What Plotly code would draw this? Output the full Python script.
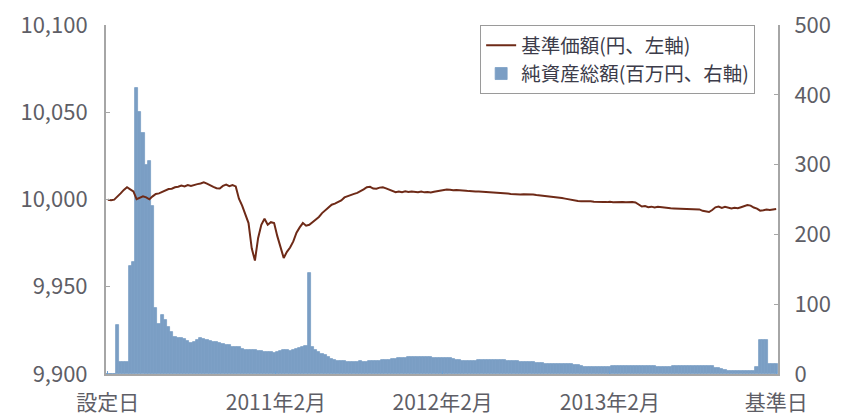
import pandas as pd
import plotly.graph_objects as go

# weekly observation dates from 設定日 to 基準日
dates = pd.date_range("2010-01-29", periods=210, freq="7D")

# 基準価額 (円, left axis)
nav = [
    9999.8, 9999.6, 9999.9, 10001.5, 10003.5, 10005.5, 10007, 10005.8, 10004.6, 10000.2,
    10001, 10001.8, 10001.2, 10000.1, 10001.8, 10003.2, 10003.5, 10004.2, 10005.1, 10006,
    10006.2, 10007, 10007.3, 10008, 10007.5, 10008.3, 10007.8, 10008.5, 10008.8, 10009.2,
    10009.8, 10009.1, 10008, 10007.2, 10006.5, 10006.3, 10007.8, 10008.5, 10007.6, 10008.3,
    10007.5, 10000.5, 9996.5, 9992, 9986.5, 9972, 9965, 9978, 9985.5, 9989,
    9985.5, 9987, 9986.5, 9979, 9972, 9966.5, 9970, 9972.5, 9976, 9981,
    9984, 9986.5, 9985, 9985.5, 9987, 9988.5, 9990, 9992.2, 9994, 9995.8,
    9997, 9997.6, 9998.5, 9999.5, 10001.2, 10002, 10002.6, 10003.2, 10003.8, 10004.6,
    10005.8, 10007, 10007.3, 10006.3, 10006.2, 10006.8, 10007, 10006.4, 10005.6, 10004.6,
    10004.2, 10004.6, 10004.2, 10004.7, 10004.3, 10004.6, 10004.5, 10004.2, 10004.6, 10004.1,
    10004.3, 10004, 10004.4, 10004.8, 10005.2, 10005.5, 10005.7, 10005.6, 10005.3, 10005.5,
    10005.2, 10005, 10005, 10004.8, 10004.9, 10004.6, 10004.6, 10004.5, 10004.3, 10004.4,
    10004.1, 10004.2, 10004, 10003.8, 10003.6, 10003.4, 10003.2, 10003, 10003.1, 10002.9,
    10003, 10003.1, 10002.9, 10002.9, 10002.6, 10002.4, 10002.3, 10002.1, 10002, 10001.6,
    10001.3, 10001, 10000.8, 10000.5, 10000.1, 9999.8, 9999.4, 9999.1, 9999, 9999.1,
    9998.9, 9999, 9998.7, 9998.8, 9998.5, 9998.6, 9998.5, 9998.7, 9998.4, 9998.6,
    9998.5, 9998.6, 9998.4, 9998.6, 9998.5, 9998.3, 9997.2, 9996, 9996.2, 9995.6,
    9995.9, 9995.4, 9995.8, 9995.5, 9995.4, 9995.2, 9995, 9994.9, 9994.8, 9994.6,
    9994.5, 9994.6, 9994.4, 9994.5, 9994.5, 9994.3, 9993.5, 9993, 9992.8, 9994,
    9995.5, 9996, 9995.2, 9995.8, 9995.4, 9994.8, 9995.2, 9995, 9995.6, 9996.2,
    9996.8, 9996.5, 9995.4, 9994.8, 9993.6, 9993.8, 9994.2, 9994, 9994.4, 9994.5,
]

# 純資産総額 (百万円, right axis)
aum = [
    0, 0, 0, 70, 17.5, 17.5, 17.5, 155, 160, 410,
    375, 345, 300, 305, 240, 95, 72, 84, 78, 68,
    60, 53, 52, 52, 50, 47, 44, 46, 49, 51,
    50, 49, 47, 46, 46, 45, 43, 42, 41, 39,
    39, 38, 36, 35, 35, 34, 34, 33, 33, 32,
    32, 31, 30, 31, 33, 34, 34, 33, 35, 36,
    37, 38, 40, 145, 38, 35, 32, 29, 27, 25,
    22, 20, 19, 18, 18, 17.5, 17.5, 17.5, 17.5, 18,
    17.5, 17.5, 18, 18, 18.5, 19, 19.5, 20, 20.5, 21,
    22, 22.5, 23, 23.5, 24, 24, 24.5, 24.5, 24.5, 24,
    24, 24, 23.5, 23.5, 23.5, 23.5, 23, 23, 21, 20,
    19.5, 19, 19, 19, 19, 19, 19.5, 19.5, 20, 20,
    20, 20, 20, 20, 19.5, 19, 18.5, 18, 18, 17.5,
    17, 17, 16.5, 16.5, 16, 16, 15.5, 15, 15, 14.5,
    14.5, 14.5, 14, 14, 14, 14, 13.5, 13.5, 11, 10.5,
    10.5, 10.5, 10.5, 10.5, 10.5, 10.5, 10.5, 10.5, 11, 11,
    11.5, 11.5, 12, 12, 12, 12, 12, 11.5, 11.5, 11,
    11, 11, 10.5, 10.5, 10.5, 10.5, 10.5, 11, 11, 11,
    11, 11, 11, 11, 11.5, 11.5, 12, 12, 12, 11,
    9, 8.5, 7, 6, 5, 4, 4, 4, 4, 4,
    4, 4, 5, 10, 49, 49, 49, 14, 14, 14,
]

xtick_vals = ["2010-01-29", "2011-02-01", "2012-02-01", "2013-02-01", "2014-01-31"]
xtick_text = ["設定日", "2011年2月", "2012年2月", "2013年2月", "基準日"]
left_ticks = [9900, 9950, 10000, 10050, 10100]
right_ticks = [0, 100, 200, 300, 400, 500]

FONT = "Noto Sans CJK JP"
AXIS_GRAY = "#a6a6a6"
BAR_COLOR = "#7b9ec4"
TICK_FONT = dict(family=FONT, size=22, color="#5e5e66")

fig = go.Figure()
fig.add_trace(go.Scatter(
    x=dates, y=nav, mode="lines", name="基準価額(円、左軸)",
    line=dict(color="#6e2a17", width=2), yaxis="y2",
))
fig.add_trace(go.Bar(
    x=dates, y=aum, name="純資産総額(百万円、右軸)",
    marker=dict(color=BAR_COLOR, line=dict(color=BAR_COLOR, width=0.8)), yaxis="y",
))

# the page body adds an 8px margin, so the figure is sized to end at the window edge
fig.update_layout(
    width=833, height=411,
    margin=dict(l=98, r=63, t=17, b=45, autoexpand=False),
    paper_bgcolor="white", plot_bgcolor="white",
    bargap=0,
    font=dict(family=FONT, color="#444444"),
    showlegend=True,
    legend=dict(
        x=0.966, y=1.0, xanchor="right", yanchor="top",
        bgcolor="white", bordercolor="#9a9a9a", borderwidth=1,
        font=dict(family=FONT, size=19.5, color="#3c3c4a"),
        itemwidth=30, tracegroupgap=0,
        traceorder="normal",
    ),
    xaxis=dict(
        type="date", automargin=False,
        range=["2010-01-25", "2014-02-04"],
        tickvals=xtick_vals, ticktext=xtick_text,
        showgrid=False, zeroline=False,
        showline=True, linecolor=AXIS_GRAY, linewidth=2,
        ticks="inside", ticklen=3, tickcolor="#6fa0d0",
        tickfont=dict(family=FONT, size=21, color="#5e5e66"),
        ticklabeloverflow="allow",
        ticklabelstandoff=9,
    ),
    yaxis=dict(
        side="right", range=[0, 500], tickvals=right_ticks, automargin=False,
        showgrid=False, zeroline=False,
        showline=True, linecolor=AXIS_GRAY, linewidth=2,
        ticks="inside", ticklen=4, tickcolor=AXIS_GRAY,
        tickfont=TICK_FONT, ticklabelstandoff=10, ticklabeloverflow="allow",
    ),
    yaxis2=dict(
        overlaying="y", side="left", range=[9900, 10100], automargin=False,
        tickvals=left_ticks, tickformat=",d",
        showgrid=False, zeroline=False,
        showline=True, linecolor=AXIS_GRAY, linewidth=2,
        ticks="inside", ticklen=4, tickcolor=AXIS_GRAY,
        tickfont=TICK_FONT, ticklabelstandoff=12, ticklabeloverflow="allow",
    ),
)

fig.write_html("out.html")
